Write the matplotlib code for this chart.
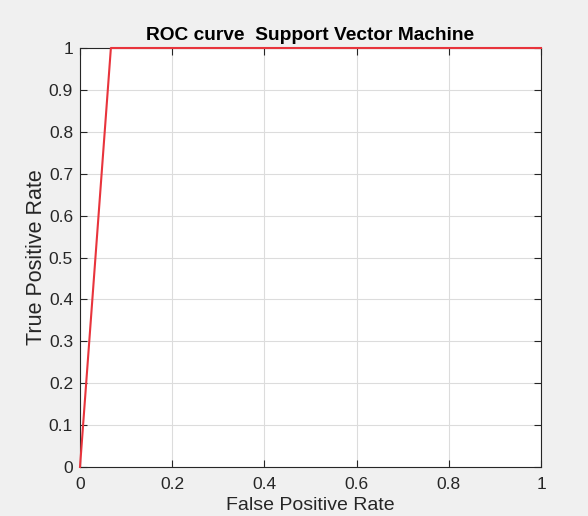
import matplotlib.pyplot as plt
import numpy as np

plt.rcParams['font.family'] = ['Liberation Sans', 'DejaVu Sans']

# ROC data
fpr = [0.0, 0.067, 1.0]
tpr = [0.0, 1.0, 1.0]
x_ticks = [0, 0.2, 0.4, 0.6, 0.8, 1]
y_ticks = [0, 0.1, 0.2, 0.3, 0.4, 0.5, 0.6, 0.7, 0.8, 0.9, 1]

fig = plt.figure(figsize=(5.88, 5.16), dpi=100, facecolor='#f0f0f0')
ax = fig.add_axes([80 / 588, 49 / 516, 461 / 588, 419 / 516])

ax.plot(fpr, tpr, color='#e8343c', linewidth=1.5, clip_on=False, zorder=5)

ax.set_xlim(0, 1)
ax.set_ylim(0, 1)
ax.set_xticks(x_ticks)
ax.set_xticklabels([f'{t:g}' for t in x_ticks])
ax.set_yticks(y_ticks)
ax.set_yticklabels([f'{t:g}' for t in y_ticks])

ax.grid(True, color='#dcdcdc', linewidth=0.8)
ax.set_axisbelow(True)
ax.tick_params(direction='in', length=5, width=0.8, colors='#262626',
               labelsize=12.5, top=True, right=True, pad=5)
ax.tick_params(axis='x', pad=7)
for s in ax.spines.values():
    s.set_color('#262626')
    s.set_linewidth(0.8)

ax.set_xlabel('False Positive Rate', fontsize=14, color='#262626', labelpad=4)
ax.set_ylabel('True Positive Rate', fontsize=15.5, color='#262626', labelpad=1)
ax.set_title('ROC curve  Support Vector Machine', fontsize=13.8, fontweight='bold',
             color='black', pad=6)

fig.savefig('out.png', dpi=100, facecolor=fig.get_facecolor())
